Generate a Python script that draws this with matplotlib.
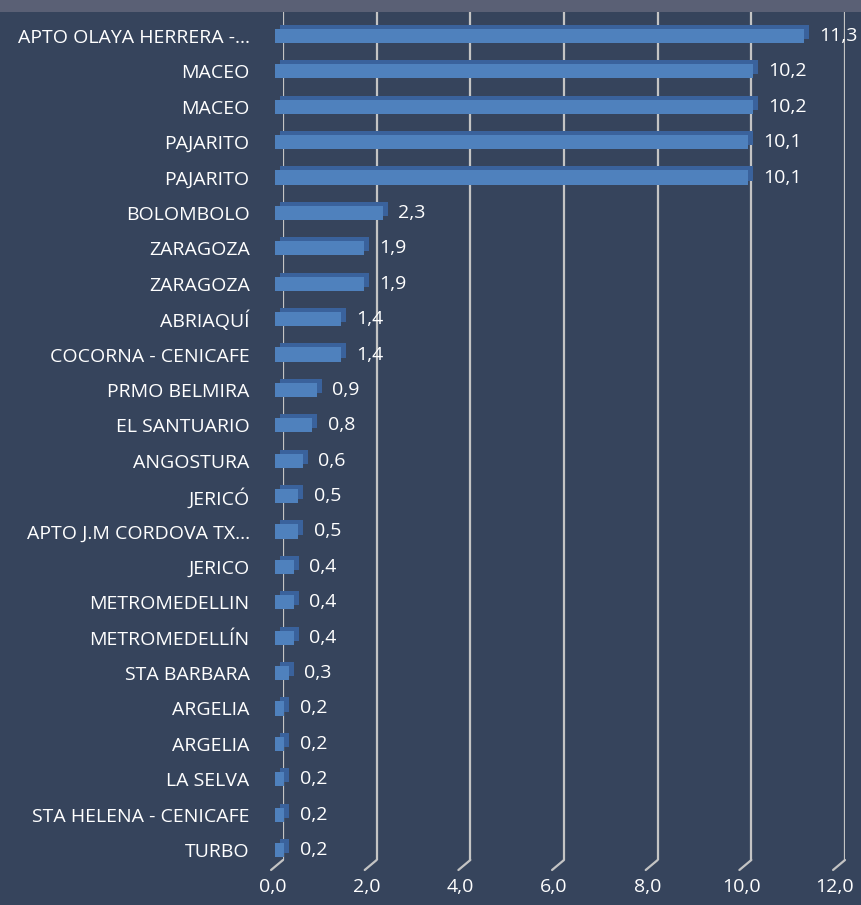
import matplotlib.pyplot as plt
from matplotlib.patches import Rectangle
from matplotlib.transforms import ScaledTranslation

# stations, top to bottom, and their values
stations = ["APTO OLAYA HERRERA -...", "MACEO", "MACEO", "PAJARITO", "PAJARITO",
            "BOLOMBOLO", "ZARAGOZA", "ZARAGOZA", "ABRIAQUÍ", "COCORNA - CENICAFE",
            "PRMO BELMIRA", "EL SANTUARIO", "ANGOSTURA", "JERICÓ",
            "APTO J.M CORDOVA TX...", "JERICO", "METROMEDELLIN", "METROMEDELLÍN",
            "STA BARBARA", "ARGELIA", "ARGELIA", "LA SELVA",
            "STA HELENA - CENICAFE", "TURBO"]
values = [11.3, 10.2, 10.2, 10.1, 10.1, 2.3, 1.9, 1.9, 1.4, 1.4, 0.9, 0.8, 0.6,
          0.5, 0.5, 0.4, 0.4, 0.4, 0.3, 0.2, 0.2, 0.2, 0.2, 0.2]
xticks = [0, 2, 4, 6, 8, 10, 12]

bg = "#36445C"
grid_c = "#C4C4C4"
plt.rcParams["font.family"] = ["Open Sans", "DejaVu Sans"]
fs = 14

W, H = 861, 905
fig = plt.figure(figsize=(W / 100, H / 100), dpi=100, facecolor=bg)
fig.add_artist(Rectangle((0, 1 - 12 / H), 1, 12 / H, transform=fig.transFigure,
                         facecolor="#5A6075", edgecolor="none"))

ax = fig.add_axes([283 / W, 45 / H, (845 - 283) / W, (893 - 45) / H])
ax.set_facecolor("none")
ax.set_xlim(0, 12)
n = len(stations)
ax.set_ylim(n - 1 + 10 / 35.4, -24 / 35.4)
for s in ax.spines.values():
    s.set_visible(False)

# back wall gridlines + floor perspective
for x in xticks:
    ax.axvline(x, color=grid_c, lw=1.6, zorder=1)
    ax.annotate("", xy=(x, 0), xycoords=("data", "axes fraction"),
                xytext=(-8.6, -7.2), textcoords="offset points",
                arrowprops=dict(arrowstyle="-", color=grid_c, lw=1.6,
                                shrinkA=0, shrinkB=0))

ypos = list(range(n))
front = ax.transData + ScaledTranslation(-8 / 100, 0, fig.dpi_scale_trans)
depth = ax.transData + ScaledTranslation(-3 / 100, 4 / 100, fig.dpi_scale_trans)
ax.barh(ypos, values, height=0.40, color="#3A629C", transform=depth,
        zorder=2, clip_on=False)
ax.barh(ypos, values, height=0.40, color="#4F81BD", transform=front,
        zorder=3, clip_on=False)

for y, v in zip(ypos, values):
    ax.annotate(f"{v:.1f}".replace(".", ","), xy=(v, y), xytext=(11, 0),
                textcoords="offset points", xycoords=front,
                ha="left", va="center", color="white", fontsize=fs, zorder=4,
                annotation_clip=False)

ax.set_yticks(ypos)
ax.set_yticklabels(stations, color="white", fontsize=fs)
ax.set_xticks(xticks)
ax.set_xticklabels([f"{t:.1f}".replace(".", ",") for t in xticks],
                   color="white", fontsize=fs)
ax.tick_params(axis="y", length=0, pad=24)
ax.tick_params(axis="x", length=0, pad=13)
shift = ScaledTranslation(-10 / 100, 0, fig.dpi_scale_trans)
for lab in ax.get_xticklabels():
    lab.set_transform(lab.get_transform() + shift)

fig.savefig("out.png", dpi=100, facecolor=bg)
